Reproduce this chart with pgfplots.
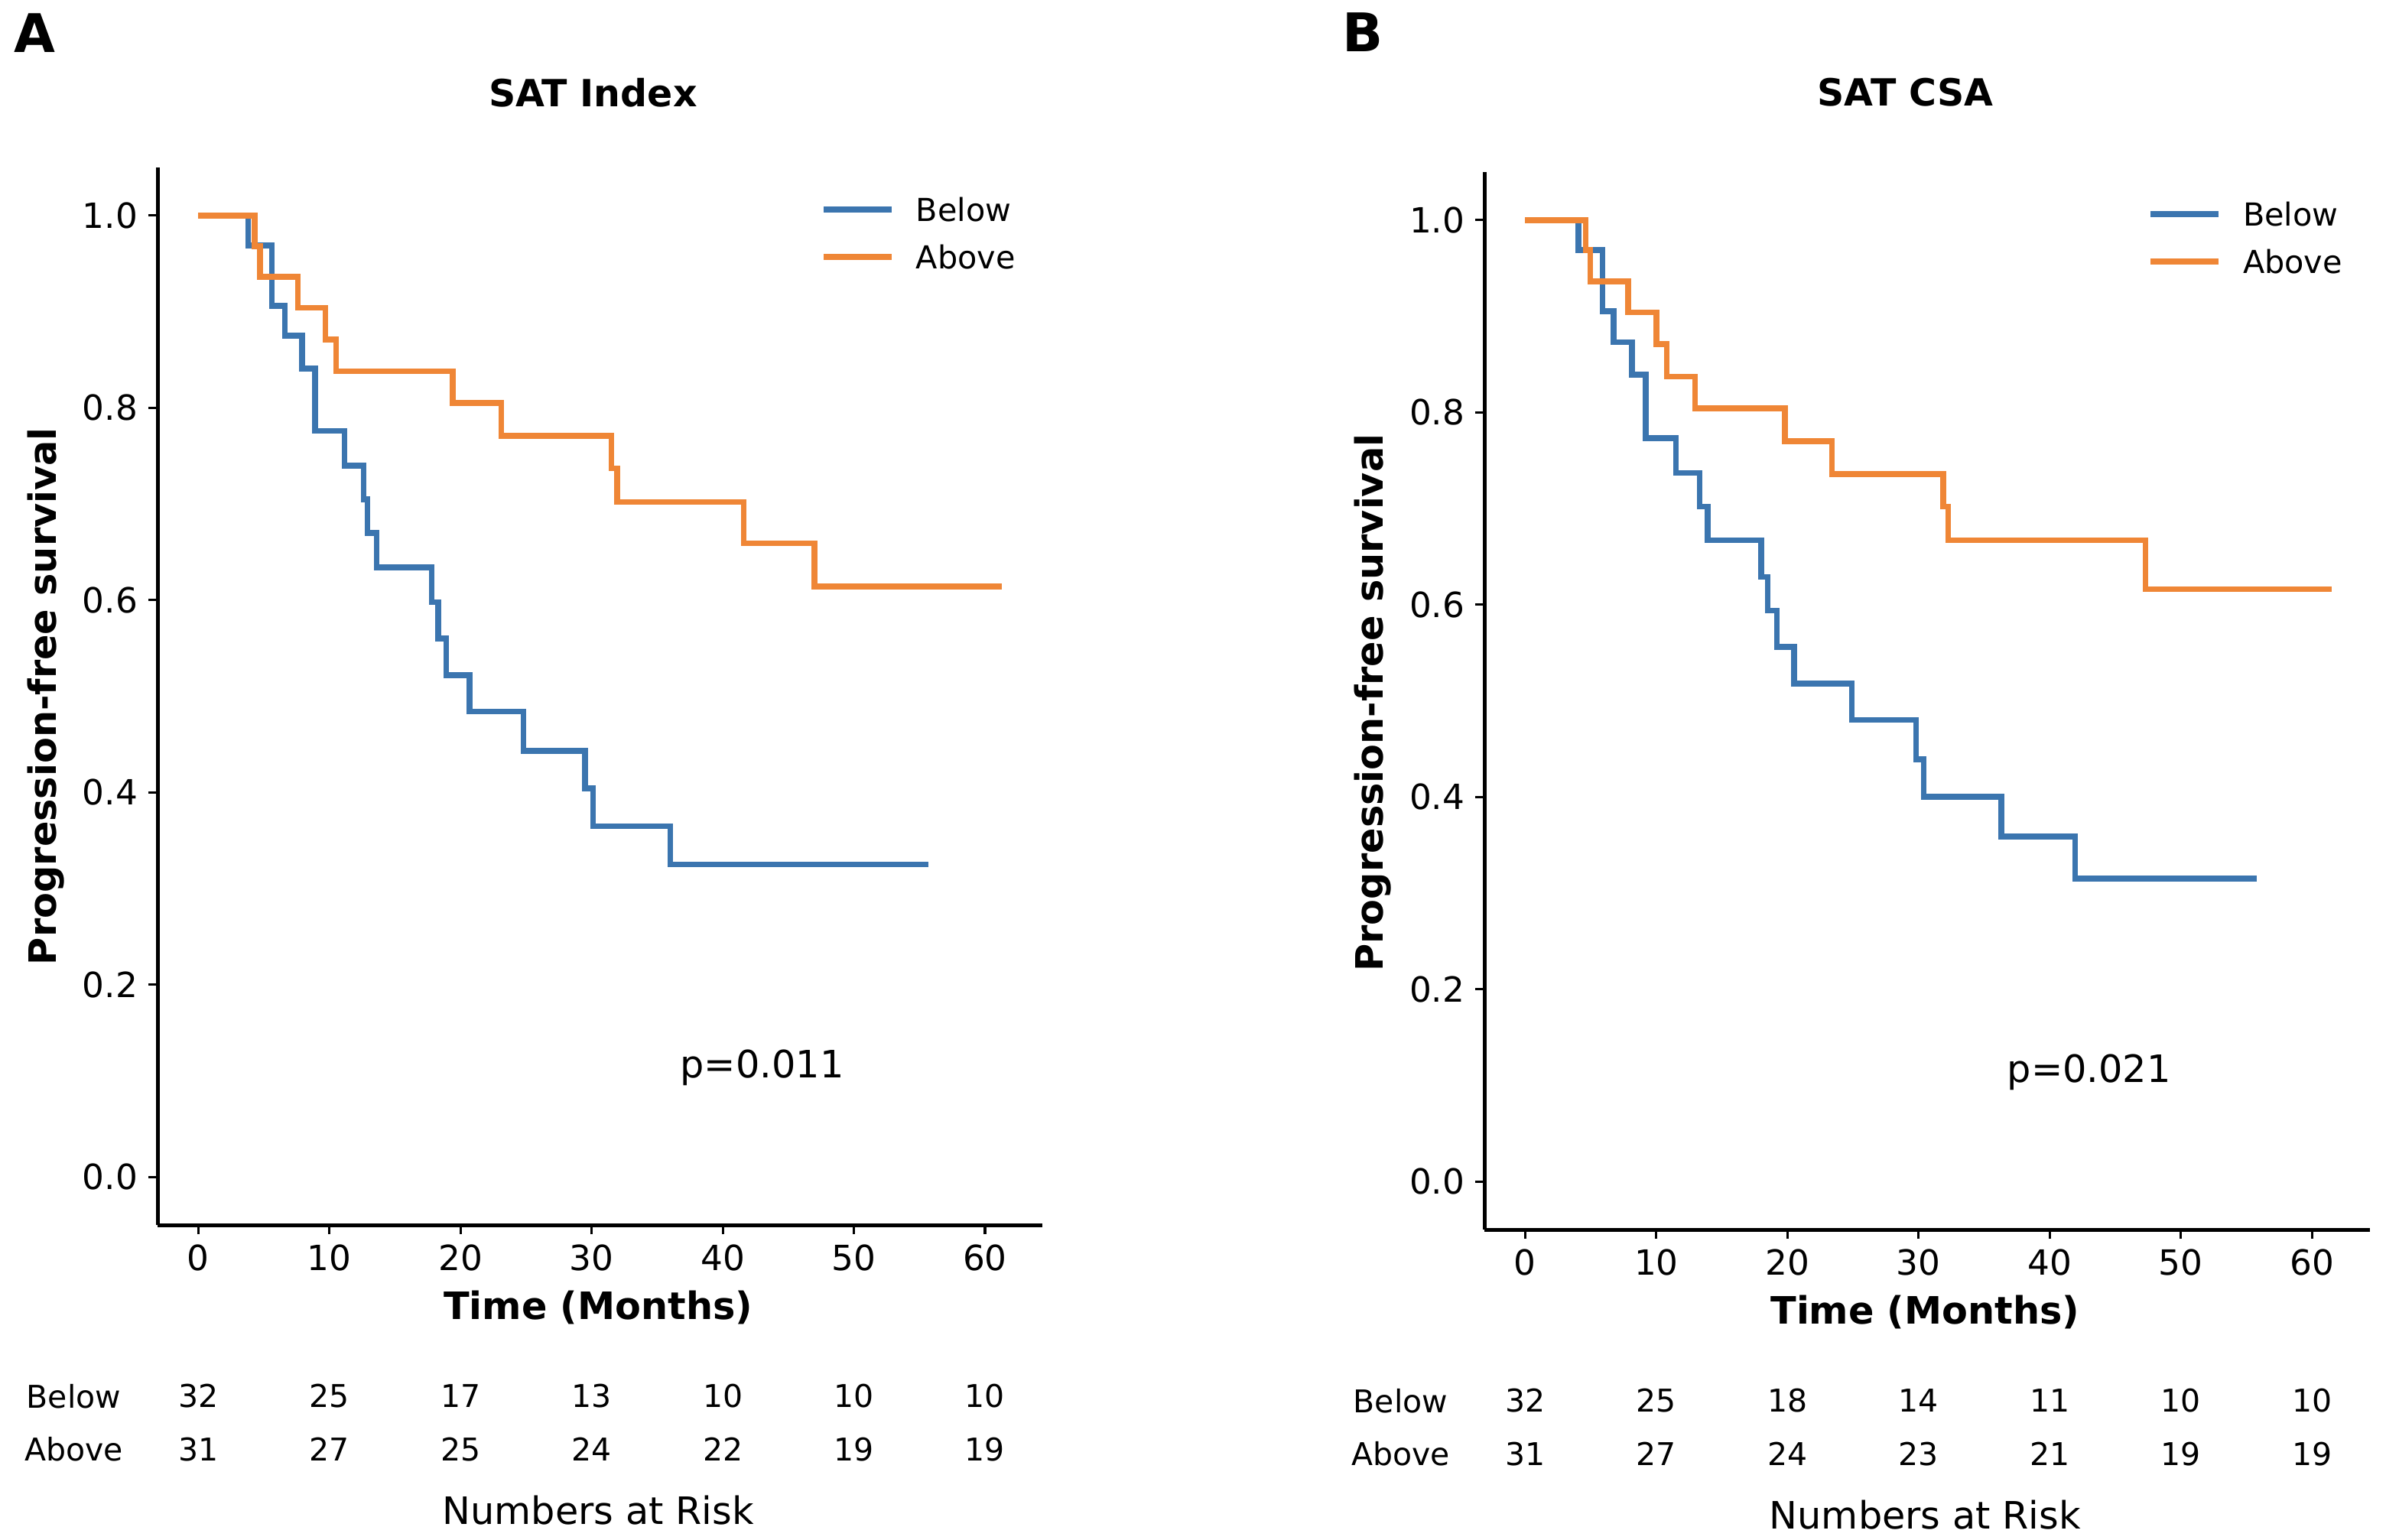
\documentclass[border=0pt]{standalone}
\usepackage{pgfplots}
\pgfplotsset{compat=1.18}
\usepackage{fontspec}
\setmainfont{DejaVu Sans}

\definecolor{kmblue}{HTML}{3B75AF}
\definecolor{kmorange}{HTML}{EF8636}

\newcommand\fz[1]{\fontsize{#1}{1.2\dimexpr #1\relax}\selectfont}

\pgfplotsset{
  km/.style={
    scale only axis, width=290.8pt, height=347.6pt,
    xmin=-3.1, xmax=64.4, ymin=-0.05, ymax=1.05,
    axis x line*=bottom, axis y line*=left,
    axis line style={line width=1.25pt, black},
    tick align=outside, major tick length=3pt,
    tick style={line width=0.8pt, black},
    xtick={0,10,...,60}, ytick={0,0.2,...,1.0},
    /pgf/number format/assume math mode=true,
    yticklabel style={/pgf/number format/fixed, /pgf/number format/fixed zerofill,
      /pgf/number format/precision=1},
    tick label style={font=\fz{11.4pt}},
    clip=false,
  },
  blueline/.style={const plot, kmblue, line width=1.9pt, no marks},
  orangeline/.style={const plot, kmorange, line width=1.9pt, no marks},
}

\begin{document}
\begin{tikzpicture}
\useasboundingbox (0,0) rectangle (784pt,-506pt);

% ---------- panel A ----------
\begin{axis}[km, at={(51.8pt,-402.6pt)}, anchor=south west]
\addplot[blueline] coordinates {
 (0,1) (3.8,0.969) (5.6,0.906) (6.6,0.875) (7.9,0.841) (8.9,0.776)
 (11.15,0.740) (12.6,0.705) (12.9,0.670) (13.6,0.634) (17.8,0.598)
 (18.3,0.560) (18.9,0.522) (20.7,0.484) (24.8,0.443) (29.5,0.404)
 (30.1,0.365) (36.0,0.325) (55.7,0.325)};
\addplot[orangeline] coordinates {
 (0,1) (4.3,0.968) (4.7,0.936) (7.6,0.904) (9.7,0.871) (10.5,0.838)
 (19.4,0.805) (23.1,0.771) (31.5,0.737) (31.95,0.702) (41.6,0.659)
 (47.0,0.614) (61.3,0.614)};

% legend
\draw[kmblue, line width=1.9pt] (axis cs:47.7,1.006) -- (axis cs:52.9,1.006);
\node[anchor=west, inner sep=0pt, font=\fz{10.4pt}] at (axis cs:54.7,1.006) {Below};
\draw[kmorange, line width=1.9pt] (axis cs:47.7,0.957) -- (axis cs:52.9,0.957);
\node[anchor=west, inner sep=0pt, font=\fz{10.4pt}] at (axis cs:54.7,0.957) {Above};

\node[font=\fz{12.4pt}] at (axis cs:43.0,0.114) {p=0.011};
\node[font=\bfseries\fz{12.3pt}] at (axis cs:30.1,1.128) {SAT Index};
\node[font=\bfseries\fz{17.5pt}] at (axis cs:-12.5,1.19) {A};
\node[font=\bfseries\fz{12.4pt}] at (axis cs:30.5,-0.136) {Time (Months)};
\node[font=\bfseries\fz{12.4pt}, rotate=90] at (axis cs:-11.6,0.50) {Progression-free survival};

% numbers at risk
\node[font=\fz{10.3pt}] at (axis cs:-9.5,-0.228) {Below};
\node[font=\fz{10.3pt}] at (axis cs:-9.5,-0.283) {Above};
\node[font=\fz{10.3pt}] at (axis cs:0,-0.228) {32};
\node[font=\fz{10.3pt}] at (axis cs:10,-0.228) {25};
\node[font=\fz{10.3pt}] at (axis cs:20,-0.228) {17};
\node[font=\fz{10.3pt}] at (axis cs:30,-0.228) {13};
\node[font=\fz{10.3pt}] at (axis cs:40,-0.228) {10};
\node[font=\fz{10.3pt}] at (axis cs:50,-0.228) {10};
\node[font=\fz{10.3pt}] at (axis cs:60,-0.228) {10};
\node[font=\fz{10.3pt}] at (axis cs:0,-0.283) {31};
\node[font=\fz{10.3pt}] at (axis cs:10,-0.283) {27};
\node[font=\fz{10.3pt}] at (axis cs:20,-0.283) {25};
\node[font=\fz{10.3pt}] at (axis cs:30,-0.283) {24};
\node[font=\fz{10.3pt}] at (axis cs:40,-0.283) {22};
\node[font=\fz{10.3pt}] at (axis cs:50,-0.283) {19};
\node[font=\fz{10.3pt}] at (axis cs:60,-0.283) {19};
\node[font=\fz{12.4pt}] at (axis cs:30.5,-0.3465) {Numbers at Risk};
\end{axis}

% ---------- panel B ----------
\begin{axis}[km, at={(487.8pt,-404.1pt)}, anchor=south west]
\addplot[blueline] coordinates {
 (0,1) (4.07,0.969) (5.9,0.905) (6.75,0.873) (8.15,0.839) (9.2,0.773)
 (11.5,0.737) (13.3,0.702) (13.9,0.667) (18.0,0.629) (18.5,0.594)
 (19.2,0.556) (20.5,0.518) (24.9,0.480) (29.8,0.439) (30.4,0.400)
 (36.3,0.359) (41.95,0.315) (55.8,0.315)};
\addplot[orangeline] coordinates {
 (0,1) (4.6,0.969) (4.97,0.936) (7.85,0.904) (10.0,0.871) (10.8,0.837)
 (12.95,0.804) (19.8,0.770) (23.4,0.736) (31.87,0.702) (32.26,0.667)
 (47.3,0.616) (61.5,0.616)};

\draw[kmblue, line width=1.9pt] (axis cs:47.7,1.006) -- (axis cs:52.9,1.006);
\node[anchor=west, inner sep=0pt, font=\fz{10.4pt}] at (axis cs:54.7,1.006) {Below};
\draw[kmorange, line width=1.9pt] (axis cs:47.7,0.957) -- (axis cs:52.9,0.957);
\node[anchor=west, inner sep=0pt, font=\fz{10.4pt}] at (axis cs:54.7,0.957) {Above};

\node[font=\fz{12.4pt}] at (axis cs:43.0,0.114) {p=0.021};
\node[font=\bfseries\fz{12.3pt}] at (axis cs:29.0,1.133) {SAT CSA};
\node[font=\bfseries\fz{17.5pt}] at (axis cs:-12.4,1.195) {B};
\node[font=\bfseries\fz{12.4pt}] at (axis cs:30.5,-0.136) {Time (Months)};
\node[font=\bfseries\fz{12.4pt}, rotate=90] at (axis cs:-11.6,0.498) {Progression-free survival};

\node[font=\fz{10.3pt}] at (axis cs:-9.5,-0.228) {Below};
\node[font=\fz{10.3pt}] at (axis cs:-9.5,-0.283) {Above};
\node[font=\fz{10.3pt}] at (axis cs:0,-0.228) {32};
\node[font=\fz{10.3pt}] at (axis cs:10,-0.228) {25};
\node[font=\fz{10.3pt}] at (axis cs:20,-0.228) {18};
\node[font=\fz{10.3pt}] at (axis cs:30,-0.228) {14};
\node[font=\fz{10.3pt}] at (axis cs:40,-0.228) {11};
\node[font=\fz{10.3pt}] at (axis cs:50,-0.228) {10};
\node[font=\fz{10.3pt}] at (axis cs:60,-0.228) {10};
\node[font=\fz{10.3pt}] at (axis cs:0,-0.283) {31};
\node[font=\fz{10.3pt}] at (axis cs:10,-0.283) {27};
\node[font=\fz{10.3pt}] at (axis cs:20,-0.283) {24};
\node[font=\fz{10.3pt}] at (axis cs:30,-0.283) {23};
\node[font=\fz{10.3pt}] at (axis cs:40,-0.283) {21};
\node[font=\fz{10.3pt}] at (axis cs:50,-0.283) {19};
\node[font=\fz{10.3pt}] at (axis cs:60,-0.283) {19};
\node[font=\fz{12.4pt}] at (axis cs:30.5,-0.3465) {Numbers at Risk};
\end{axis}
\end{tikzpicture}
\end{document}
